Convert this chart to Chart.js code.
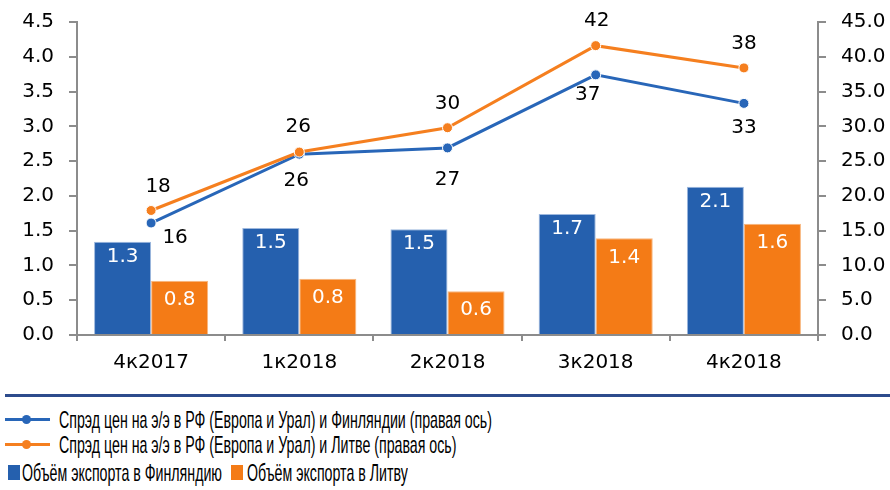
<!DOCTYPE html>
<html lang="ru">
<head>
  <meta charset="UTF-8">
  <title>Спрэд цен на э/э и экспорт</title>
  <script src="https://cdn.jsdelivr.net/npm/chart.js"></script>
  <style>
    body { margin: 0; background: #fff; font-family: "Liberation Sans", Arial, sans-serif; }
    #wrap { position: relative; width: 890px; height: 490px; overflow: hidden; }
    #chart { position: absolute; left: 0; top: 0; }
    #sep { position: absolute; left: 5px; right: 0; top: 394px; height: 3px; background: #2d4b8c; }
    .item { position: absolute; height: 26px; }
    .item .txt { position: absolute; top: 0; font-size: 24px; line-height: 26px; white-space: nowrap; color: #000; transform-origin: 0 50%; }
    .item .ln { position: absolute; left: 5px; width: 45px; height: 3px; top: 11px; }
    .item .dot { position: absolute; left: 22px; top: 8px; width: 9px; height: 9px; border-radius: 50%; }
    .item .sq { position: absolute; top: 5px; width: 12px; height: 15px; }
  </style>
</head>
<body>
  <div id="wrap">
    <canvas id="chart" width="890" height="390"></canvas>
    <div id="sep"></div>
    <div id="legend"></div>
  </div>

  <script>
    // data
    const categories = ["4к2017", "1к2018", "2к2018", "3к2018", "4к2018"];
    const exportFinland = [1.34, 1.54, 1.52, 1.74, 2.13];
    const exportLithuania = [0.78, 0.81, 0.63, 1.39, 1.60];
    const spreadFinland = [16.1, 26.0, 26.9, 37.4, 33.3];
    const spreadLithuania = [17.9, 26.3, 29.8, 41.6, 38.4];

    const BLUE = "#2560ae";
    const ORANGE = "#f47b16";
    const LINE_BLUE = "#2866b8";
    const LINE_ORANGE = "#f57f1f";
    const AXIS = "#8c8c8c";
    const FONT = { family: "DejaVu Sans", size: 20 };

    // value labels, drawn after the datasets
    const valueLabels = {
      id: "valueLabels",
      afterDatasetsDraw(chart, args, opts) {
        const ctx = chart.ctx;
        ctx.save();
        ctx.font = "20px 'DejaVu Sans'";
        ctx.textAlign = "center";
        ctx.textBaseline = "middle";
        chart.data.datasets.forEach((ds, i) => {
          const o = opts.place[i];
          const meta = chart.getDatasetMeta(i);
          meta.data.forEach((el, j) => {
            const s = (o.shift && o.shift[j]) || [0, 0];
            ctx.fillStyle = o.color;
            ctx.fillText(o.fmt(ds.data[j]), el.x + s[0], el.y + o.dy + s[1]);
          });
        });
        ctx.restore();
      }
    };

    const axisGrid = { display: true, drawOnChartArea: false, drawTicks: true, color: AXIS, lineWidth: 2 };
    const axisBorder = { display: true, color: AXIS, width: 2 };

    // fixed side axes, without the extra room chart.js keeps for the top label
    const fixSide = w => s => { s.width = w; s.paddingTop = 0; s.paddingBottom = 0; };

    const chart = new Chart(document.getElementById("chart"), {
      type: "bar",
      data: {
        labels: categories,
        datasets: [
          { type: "line", label: "Спрэд цен на э/э в РФ (Европа и Урал) и Финляндии (правая ось)", data: spreadFinland,
            yAxisID: "y1", borderColor: LINE_BLUE, backgroundColor: LINE_BLUE, borderWidth: 3,
            pointRadius: 5, pointBorderColor: "#fff", pointBorderWidth: 1, order: 1 },
          { type: "line", label: "Спрэд цен на э/э в РФ (Европа и Урал) и Литве (правая ось)", data: spreadLithuania,
            yAxisID: "y1", borderColor: LINE_ORANGE, backgroundColor: LINE_ORANGE, borderWidth: 3,
            pointRadius: 5, pointBorderColor: "#fff", pointBorderWidth: 1, order: 0 },
          { label: "Объём экспорта в Финляндию", data: exportFinland, yAxisID: "y",
            backgroundColor: BLUE, borderColor: "#9db8de", borderWidth: 1,
            barPercentage: 1, categoryPercentage: 0.77, order: 2 },
          { label: "Объём экспорта в Литву", data: exportLithuania, yAxisID: "y",
            backgroundColor: ORANGE, borderColor: "#f8b77f", borderWidth: 1,
            barPercentage: 1, categoryPercentage: 0.77, order: 2 }
        ]
      },
      options: {
        responsive: false,
        animation: false,
        layout: { padding: { top: 22, left: 0, right: 0, bottom: 0 } },
        plugins: {
          legend: { display: false },
          tooltip: { enabled: false },
          valueLabels: {
            place: [
              { color: "#000", dy: 24, fmt: v => Math.round(v),
                shift: [[24, -9], [-3, 3], [0, 8], [-8, -4], [0, 0]] },
              { color: "#000", dy: -24, fmt: v => Math.round(v),
                shift: [[7, 0], [-1, -1], [0, 0], [1, -1], [0, 0]] },
              { color: "#fff", dy: 15, fmt: v => v.toFixed(1) },
              { color: "#fff", dy: 19, fmt: v => v.toFixed(1) }
            ]
          }
        },
        scales: {
          x: {
            grid: { ...axisGrid, tickLength: 6, offset: true },
            border: axisBorder,
            ticks: { color: "#000", font: FONT, padding: 10 },
            afterFit: s => { s.height = 55; }
          },
          y: {
            position: "left", min: 0, max: 4.5,
            grid: { ...axisGrid, tickLength: 8 },
            border: axisBorder,
            ticks: { stepSize: 0.5, color: "#000", font: FONT, padding: 15, callback: v => v.toFixed(1) },
            afterFit: fixSide(77)
          },
          y1: {
            position: "right", min: 0, max: 45,
            grid: { ...axisGrid, tickLength: 8 },
            border: axisBorder,
            ticks: { stepSize: 5, color: "#000", font: FONT, padding: 15, callback: v => v.toFixed(1) },
            afterFit: fixSide(72)
          }
        }
      },
      plugins: [valueLabels]
    });

    // legend below the separator, built from the datasets
    const legend = document.getElementById("legend");
    const ds = chart.data.datasets;
    const items = [
      { d: ds[0], kind: "line", left: 0, top: 407, textLeft: 59 },
      { d: ds[1], kind: "line", left: 0, top: 432, textLeft: 59 },
      { d: ds[2], kind: "box", left: 8, top: 460, textLeft: 14 },
      { d: ds[3], kind: "box", left: 231, top: 460, textLeft: 16 }
    ];
    const spans = [];
    items.forEach(it => {
      const el = document.createElement("div");
      el.className = "item";
      el.style.left = it.left + "px";
      el.style.top = it.top + "px";
      if (it.kind === "line") {
        el.innerHTML = `<div class="ln" style="background:${it.d.borderColor}"></div>` +
                       `<div class="dot" style="background:${it.d.borderColor}"></div>`;
      } else {
        el.innerHTML = `<div class="sq" style="left:0;background:${it.d.backgroundColor}"></div>`;
      }
      const t = document.createElement("span");
      t.className = "txt";
      t.style.left = it.textLeft + "px";
      t.textContent = it.d.label;
      el.appendChild(t);
      legend.appendChild(el);
      spans.push(t);
    });
    // the legend font is condensed: squeeze the text to the first row's width
    const k = 433 / spans[0].getBoundingClientRect().width;
    spans.forEach(t => { t.style.transform = `scaleX(${k})`; });
  </script>
</body>
</html>
